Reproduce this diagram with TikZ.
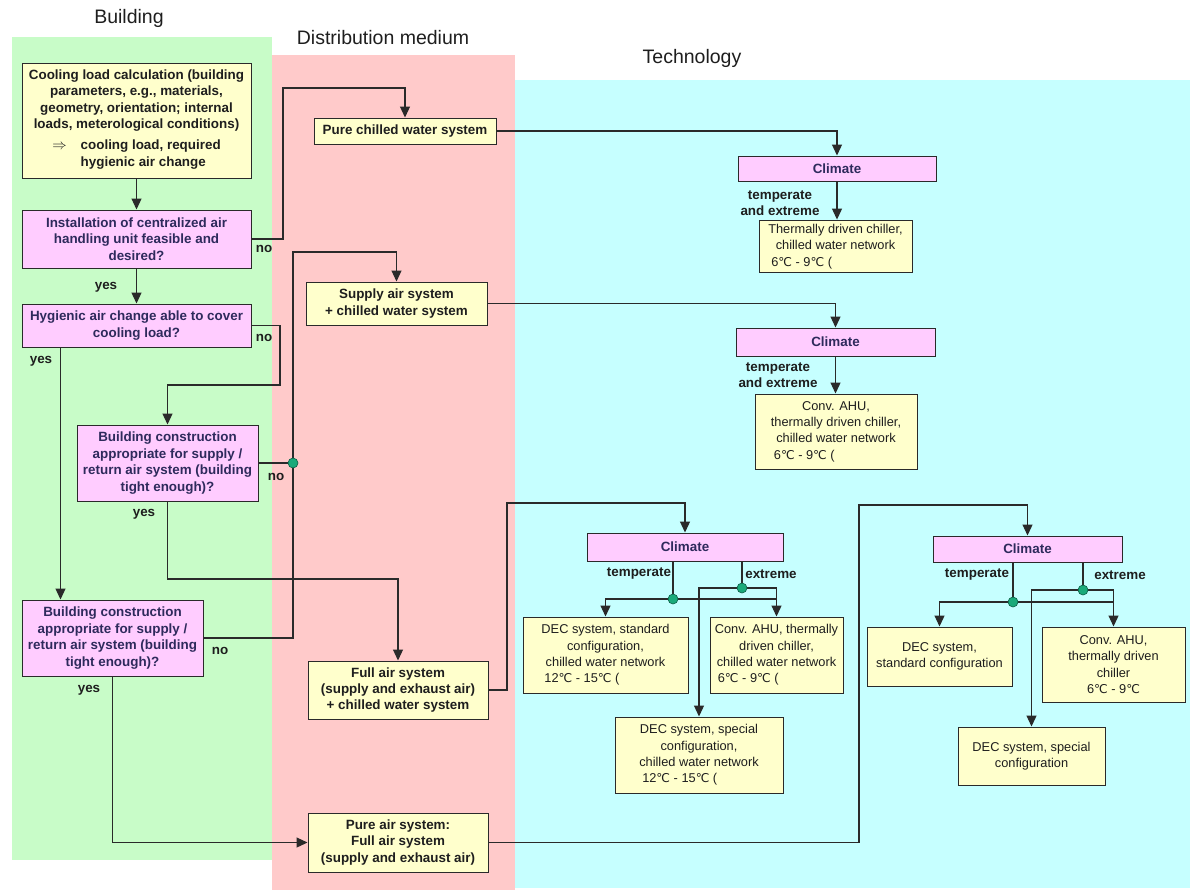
\documentclass[tikz,border=0pt]{standalone}
\usepackage{fontspec}
\setmainfont{Liberation Sans}
\newfontfamily\dvfont[Scale=0.95]{DejaVu Sans}
\usetikzlibrary{arrows.meta}
\definecolor{bggreen}{HTML}{C8FCC8}
\definecolor{bgpink}{HTML}{FFCACA}
\definecolor{bgcyan}{HTML}{C6FFFF}
\definecolor{boxy}{HTML}{FFFFCC}
\definecolor{boxp}{HTML}{FFCCFF}
\definecolor{linec}{HTML}{2A2A2A}
\definecolor{txt}{HTML}{1E1E1E}
\definecolor{ptxt}{HTML}{2E2A5C}
\definecolor{dotc}{HTML}{1AAA7A}
\definecolor{dotd}{HTML}{0B5E45}
\newcommand\bsz{\fontsize{13.4}{16.4}\selectfont\bfseries}
\newcommand\tsz{\fontsize{12.8}{16.3}\selectfont}
\newcommand\myDeg{{\dvfont ℃}}
\newcommand\lastl[1]{\multicolumn{1}{@{\hspace{3pt}}l@{}}{#1}}
\begin{document}
\begin{tikzpicture}[x=1pt,y=-1pt,
  base/.style={draw=linec, line width=1pt, inner sep=2pt, align=center, text=txt},
  ybox/.style={base, fill=boxy, font=\bsz},
  pbox/.style={base, fill=boxp, font=\bsz, text=ptxt},
  tbox/.style={base, fill=boxy, font=\tsz},
  lbl/.style={font=\bsz, text=txt, inner sep=0pt, align=center},
  title/.style={font=\fontsize{19.5}{22}\selectfont, text=txt, inner sep=0pt},
  conn/.style={draw=linec, line width=1.2pt},
  arr/.style={conn, -{Triangle[length=11pt,width=10pt]}},
  jdot/.style={circle, fill=dotc, draw=dotd, line width=0.6pt, minimum size=10pt, inner sep=0pt}
]
\useasboundingbox (0,0) rectangle (1190,892);
\fill[white] (0,0) rectangle (1190,892);
% backgrounds
\fill[bggreen] (12,37) rectangle (272,860);
\fill[bgpink] (272,55) rectangle (515,890);
\fill[bgcyan] (515,80) rectangle (1190,888);
% titles
\node[title] (tbuild) at (129,18) {Building};
\node[title] (tdist) at (383,38) {Distribution medium};
\node[title] (ttech) at (692,58) {Technology};

% building column
\node[ybox, minimum width=229pt, minimum height=115pt] (cool) at (136.5,120.5)
 {Cooling load calculation (building\\
  parameters, e.g., materials,\\
  geometry, orientation; internal\\
  loads, meterological conditions)\\[6pt]
  \begin{tabular}{@{}l@{\hspace{14pt}}l@{}}$\Rightarrow$ & cooling load, required\\ & hygienic air change\end{tabular}};
\node[pbox, minimum width=229pt, minimum height=58pt] (inst) at (136.5,239)
 {Installation of centralized air\\handling unit feasible and\\desired?};
\node[pbox, minimum width=229pt, minimum height=43pt] (hyg) at (136.5,325.5)
 {Hygienic air change able to cover\\cooling load?};
\node[pbox, minimum width=181pt, minimum height=76pt] (bcA) at (167.5,463)
 {Building construction\\appropriate for supply /\\return air system (building\\tight enough)?};
\node[pbox, minimum width=181pt, minimum height=76pt] (bcB) at (112.5,638)
 {Building construction\\appropriate for supply /\\return air system (building\\tight enough)?};

% distribution column
\node[ybox, minimum width=182pt, minimum height=26pt] (pcw) at (405,131) {Pure chilled water system};
\node[ybox, minimum width=181pt, minimum height=43pt] (sup) at (396.5,303.5) {Supply air system\\+ chilled water system};
\node[ybox, minimum width=180pt, minimum height=58pt] (full) at (398,690) {Full air system\\(supply and exhaust air)\\+ chilled water system};
\node[ybox, minimum width=180pt, minimum height=59pt] (pure) at (398,842.5) {Pure air system:\\Full air system\\(supply and exhaust air)};

% technology column
\node[pbox, minimum width=198pt, minimum height=25pt] (clim1) at (837,168.5) {Climate};
\node[tbox, minimum width=153pt, minimum height=51pt] (tdc) at (835.5,246.5)
 {\begin{tabular}{@{}c@{}}Thermally driven chiller,\\chilled water network\\\lastl{6\myDeg{} - 9\myDeg{} (}\end{tabular}};
\node[pbox, minimum width=199pt, minimum height=28pt] (clim2) at (835.5,342) {Climate};
\node[tbox, minimum width=162pt, minimum height=75pt] (ahu2) at (836,431.5)
 {\begin{tabular}{@{}c@{}}Conv. AHU,\\thermally driven chiller,\\chilled water network\\\lastl{6\myDeg{} - 9\myDeg{} (}\end{tabular}};
\node[pbox, minimum width=196pt, minimum height=28pt] (clim3) at (685,547) {Climate};
\node[tbox, minimum width=165pt, minimum height=76pt] (dec3s) at (605.5,655)
 {\begin{tabular}{@{}c@{}}DEC system, standard\\configuration,\\chilled water network\\\lastl{12\myDeg{} - 15\myDeg{} (}\end{tabular}};
\node[tbox, minimum width=133pt, minimum height=76pt] (ahu3) at (776.5,655)
 {\begin{tabular}{@{}c@{}}Conv. AHU, thermally\\driven chiller,\\chilled water network\\\lastl{6\myDeg{} - 9\myDeg{} (}\end{tabular}};
\node[tbox, minimum width=168pt, minimum height=76pt] (dec3x) at (699,755)
 {\begin{tabular}{@{}c@{}}DEC system, special\\configuration,\\chilled water network\\\lastl{12\myDeg{} - 15\myDeg{} (}\end{tabular}};
\node[pbox, minimum width=189pt, minimum height=26pt] (clim4) at (1027.5,549) {Climate};
\node[tbox, minimum width=145pt, minimum height=59pt] (dec4s) at (939.5,656.5) {DEC system,\\standard configuration};
\node[tbox, minimum width=143pt, minimum height=75pt] (ahu4) at (1113.5,664.5) {Conv. AHU,\\thermally driven\\chiller\\6\myDeg{} - 9\myDeg{}};
\node[tbox, minimum width=147pt, minimum height=58pt] (dec4x) at (1031.5,756) {DEC system, special\\configuration};

% bend coordinates
\coordinate (b1) at (283,88);
\coordinate (b2) at (280,385);
\coordinate (b3) at (293,252);
\coordinate (b4) at (300,579);
\coordinate (b5) at (507,503);
\coordinate (b6) at (859,505);
\coordinate (d3t) at (673,599);
\coordinate (d3e) at (742,588);
\coordinate (d4t) at (1013,602);
\coordinate (d4e) at (1083,590);

% connectors - building
\draw[arr] (cool.south) -- (inst.north);
\draw[arr] (inst.south) -- (hyg.north);
\draw[arr] (inst.east) -| (b1) -| (pcw.north);
\draw[arr] (hyg.east) -| (b2) -| (bcA.north);
\draw[arr] ([xshift=39pt]hyg.south west) -- ([xshift=39pt]hyg.south west |- bcB.north);
\draw[conn] (bcA.east) -- (bcA.east -| b3);
\draw[arr] (bcB.east) -| (b3) -| (sup.north);
\draw[arr] (bcA.south) |- (b4) -| (full.north);
\draw[arr] (bcB.south) |- (pure.west);

% connectors - distribution to technology
\draw[arr] (pcw.east) -| (clim1.north);
\draw[arr] (clim1.south) -- (clim1.south |- tdc.north);
\draw[arr] (sup.east) -| (clim2.north);
\draw[arr] (clim2.south) -- (clim2.south |- ahu2.north);
\draw[arr] (full.east) -| (b5) -| (clim3.north);
\draw[arr] (pure.east) -| (b6) -| (clim4.north);

% climate 3 branches
\draw[conn] (clim3.south -| d3t) -- (d3t);
\draw[conn] (clim3.south -| d3e) -- (d3e);
\draw[arr] (d3t) -| (dec3s.north);
\draw[conn] (d3t) -- (d3t -| ahu3.north);
\draw[arr] (d3e) -| (ahu3.north);
\draw[arr] (d3e) -| (dec3x.north);

% climate 4 branches
\draw[conn] (clim4.south -| d4t) -- (d4t);
\draw[conn] (clim4.south -| d4e) -- (d4e);
\draw[arr] (d4t) -| (dec4s.north);
\draw[conn] (d4t) -- (d4t -| ahu4.north);
\draw[arr] (d4e) -| (ahu4.north);
\draw[arr] (d4e) -| (dec4x.north);

% junction dots
\node[jdot] (j1) at (bcA.east -| b3) {};
\node[jdot] (j3t) at (d3t) {};
\node[jdot] (j3e) at (d3e) {};
\node[jdot] (j4t) at (d4t) {};
\node[jdot] (j4e) at (d4e) {};

% labels
\node[lbl] (l1) at (264,249) {no};
\node[lbl] (l2) at (106,287) {yes};
\node[lbl] (l3) at (264,338) {no};
\node[lbl] (l4) at (41,361) {yes};
\node[lbl] (l5) at (276,477) {no};
\node[lbl] (l6) at (144,514) {yes};
\node[lbl] (l7) at (220,651) {no};
\node[lbl] (l8) at (89,690) {yes};
\node[lbl] (l9) at (780,203) {temperate\\and extreme};
\node[lbl] (l10) at (778,375) {temperate\\and extreme};
\node[lbl] (l11) at (639,574) {temperate};
\node[lbl] (l12) at (771,574) {extreme};
\node[lbl] (l13) at (977,575) {temperate};
\node[lbl] (l14) at (1120,575) {extreme};
\end{tikzpicture}
\end{document}
